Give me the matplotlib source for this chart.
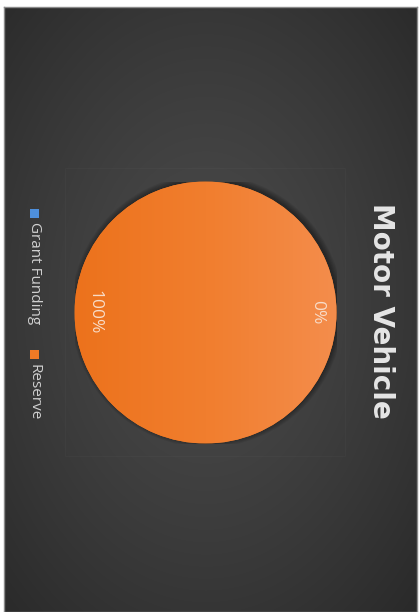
import numpy as np
import matplotlib
matplotlib.use("Agg")
import matplotlib.pyplot as plt
from matplotlib.patches import Rectangle, Circle
from matplotlib.colors import LinearSegmentedColormap

# Chart data
title = "Motor Vehicle"
categories = ["Grant Funding", "Reserve"]
values = [0, 100]
colors = ["#4E8FDB", "#F07A25"]

W, H = 419, 612
DPI = 100
fig = plt.figure(figsize=(W / DPI, H / DPI), dpi=DPI, facecolor="white")

def fx(px):
    return px / W

def fy(py):
    return 1 - py / H

# Background panel with a soft radial gradient
bx0, by0, bx1, by1 = 4, 7, 417, 612
bg = fig.add_axes([fx(bx0), fy(by1), fx(bx1 - bx0), (by1 - by0) / H])
ny, nx = by1 - by0, bx1 - bx0
yy, xx = np.mgrid[0:ny, 0:nx]
cx, cy = 205 - bx0, 300 - by0
d = np.sqrt(((xx - cx) / (nx * 0.75)) ** 2 + ((yy - cy) / (ny * 0.75)) ** 2)
d = np.clip(d, 0, 1)
c_in, c_out = 74, 40
g = (c_in + (c_out - c_in) * d ** 1.3) / 255.0
bg.imshow(np.dstack([g, g, g]), aspect="auto", interpolation="bilinear")
bg.set_xticks([])
bg.set_yticks([])
for s in bg.spines.values():
    s.set_color("#8a8a8a")
    s.set_linewidth(1.0)

# Faint plot-area frame
fig.patches.append(Rectangle((fx(65), fy(456)), fx(345 - 65), (456 - 168) / H,
                             transform=fig.transFigure, fill=False,
                             edgecolor=(1, 1, 1, 0.025), linewidth=0.8))

# Pie axes
pcx, pcy, pr = 205.5, 312.5, 131
ax = fig.add_axes([fx(pcx - pr), fy(pcy + pr), fx(2 * pr), 2 * pr / H])
ax.set_facecolor("none")

# Soft shadow behind the pie
for k in range(6):
    ax.add_patch(Circle((0.012, 0.012), 1.0 + 0.008 * k, facecolor="black",
                        edgecolor="none", alpha=0.07, zorder=0))

wedges, texts, autotexts = ax.pie(
    values, colors=colors, startangle=0, counterclock=False,
    autopct=lambda p: f"{p:.0f}%", pctdistance=0.85,
    wedgeprops=dict(linewidth=0),
    textprops=dict(color="#F8DCC8", fontsize=12.5, family="Open Sans"))
for t in autotexts:
    t.set_rotation(270)
    t.set_zorder(5)

# Horizontal shading across the filled wedge
cmap = LinearSegmentedColormap.from_list("shade", ["#EC721C", "#F17E2E", "#F48D4C"])
grad = np.linspace(0, 1, 256)[None, :]
for w, v in zip(wedges, values):
    if v > 0:
        im = ax.imshow(grad, cmap=cmap, extent=[-1, 1, -1, 1], aspect="auto", zorder=2)
        im.set_clip_path(w)

ax.set_xlim(-1, 1)
ax.set_ylim(-1, 1)
ax.set_aspect("equal")
ax.axis("off")

# Title
fig.text(fx(381), fy(311), title, rotation=270, ha="center", va="center",
         fontsize=20, fontweight="bold", color="#E6E6E6", family="DejaVu Sans")

# Legend
leg_x = 34
leg_items = [(213, 222), (354, 364)]
for (my, ty), name, col in zip(leg_items, categories, colors):
    fig.patches.append(Rectangle((fx(leg_x - 4.5), fy(my + 4.5)), fx(9), 9 / H,
                                 transform=fig.transFigure, facecolor=col,
                                 edgecolor="none"))
    fig.text(fx(leg_x), fy(ty), name, rotation=270, rotation_mode="anchor",
             ha="left", va="center", fontsize=11, color="#D0D0D0",
             family="Open Sans")

fig.savefig("out.png", dpi=DPI, facecolor="white")
